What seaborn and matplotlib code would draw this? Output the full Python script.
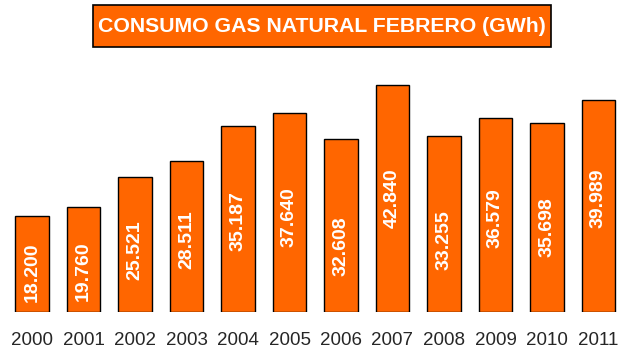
import matplotlib
matplotlib.use("Agg")
import matplotlib.pyplot as plt
from matplotlib.patches import Rectangle
import seaborn as sns
import pandas as pd

years = ["2000", "2001", "2002", "2003", "2004", "2005", "2006",
         "2007", "2008", "2009", "2010", "2011"]
consumo = [18.200, 19.760, 25.521, 28.511, 35.187, 37.640, 32.608,
           42.840, 33.255, 36.579, 35.698, 39.989]
value_labels = ["18.200", "19.760", "25.521", "28.511", "35.187", "37.640",
                "32.608", "42.840", "33.255", "36.579", "35.698", "39.989"]

# where each value label sits inside its bar (fraction of bar height)
label_frac = [0.41, 0.39, 0.46, 0.48, 0.49, 0.475, 0.38, 0.50,
              0.41, 0.485, 0.45, 0.535]

sns.set_style("white")
plt.rcParams["font.family"] = ["Liberation Sans", "DejaVu Sans"]

ORANGE = "#FF6600"
df = pd.DataFrame({"year": years, "gwh": consumo})

W, H = 632, 353
fig = plt.figure(figsize=(W / 100, H / 100), dpi=100)
ax = fig.add_axes([6.25 / W, 1 - 312 / H, 618 / W, 238.5 / H])

sns.barplot(data=df, x="year", y="gwh", color=ORANGE, saturation=1,
            width=0.66, edgecolor="black", linewidth=1.0, ax=ax)

for i, (v, lab, f) in enumerate(zip(consumo, value_labels, label_frac)):
    ax.text(i, v * f, lab, rotation=90, ha="center", va="center",
            color="white", fontsize=14, fontweight="bold")

ax.set_xlim(-0.5, len(years) - 0.5)
ax.set_ylim(0, 45)
ax.set_xlabel("")
ax.set_ylabel("")
ax.set_yticks([])
ax.tick_params(axis="x", length=0, pad=14.5, labelsize=13.5)
for s in ax.spines.values():
    s.set_visible(False)

# title banner
fig.patches.append(Rectangle((93 / W, 1 - 47 / H), 458 / W, 42 / H,
                             transform=fig.transFigure, facecolor=ORANGE,
                             edgecolor="black", linewidth=1.2, zorder=1))
fig.text(322 / W, 1 - 26.5 / H, "CONSUMO GAS NATURAL FEBRERO (GWh)",
         ha="center", va="center", color="white", fontsize=15.3,
         fontweight="bold", zorder=2)

fig.savefig("out.png", dpi=100)
